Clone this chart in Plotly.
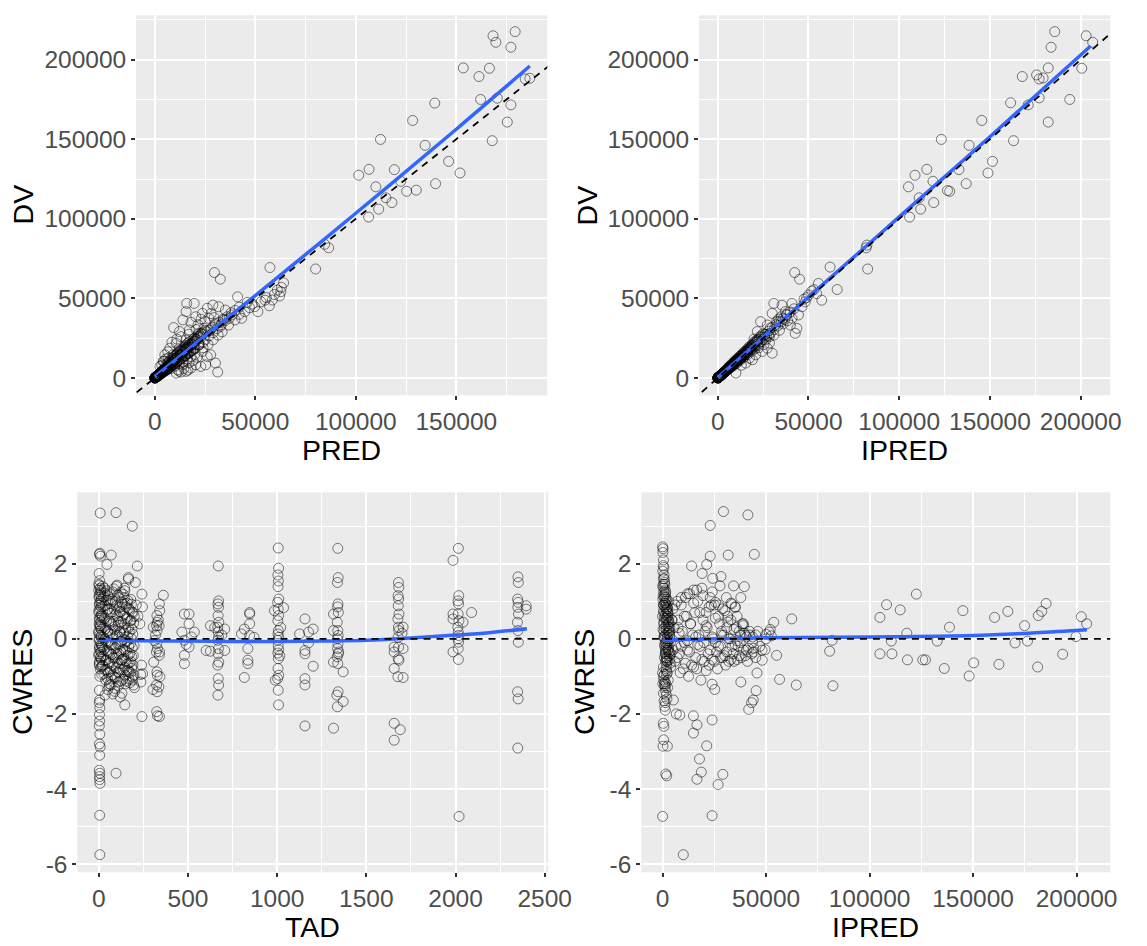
import plotly.graph_objects as go

# ---------------- Panel 1: PRED vs DV ----------------
pred = [
    168300, 179300, 169700, 177200, 153500, 166500, 161300, 184300, 186600, 162100,
    170400, 177200, 175400, 167900, 139300, 128300, 112300, 134500, 146200, 151900,
    139700, 119200, 106600, 101500, 110000, 122400, 125300, 130100, 115000, 118000,
    111400, 106400, 86500, 80000, 84500,
    57300, 64100, 62700, 61000, 62100, 63000, 41200, 47200, 49700, 52900,
    54900, 57000, 51300, 44800, 43200, 39900, 36700, 38300, 35100, 34300,
    31800, 28900, 29700, 32600, 46000, 55500, 58500, 59500, 48500, 42000,
    19600, 15900, 15600, 20400, 23700, 26100, 26900, 30200, 32600, 14000,
    9400, 12300, 17200, 15600, 19600, 22000, 24500, 10700, 7500, 9100,
    12300, 15600, 18800, 22000, 28000, 25000, 21500, 18000, 13000, 11000,
    17000, 20500, 23000, 27500, 29500, 8500, 6500, 5500, 4500, 3500,
    23700, 26100, 27800, 30200, 31300, 25300, 22900, 20400, 18000, 15600,
    13100, 10700, 11500, 8300, 6700, 5000, 4200, 2600, 14500, 16500,
    12000, 19000, 21000, 17000, 14000, 24000, 26500, 29000, 31500, 33500,
    500, 800, 1000, 1200, 1500, 1800, 2000, 2200, 2500, 2800,
    3000, 3300, 3500, 3800, 4000, 4300, 4600, 5000, 5300, 5600,
    6000, 6400, 6800, 7200, 7600, 8000, 8500, 9000, 9500, 10000,
    10500, 11000, 11500, 12000, 12500, 13000, 13500, 14000, 14500, 15000,
    15500, 16000, 16500, 17000, 17500, 18000, 18500, 19000, 19500, 20000,
    21000, 22000, 23000, 24000, 25000, 26000, 27000, 28000, 29000, 30000,
    31000, 32000, 33000, 34000, 35000, 36000, 37000, 38000, 40000, 42000,
    2000, 3000, 4000, 6000, 7000, 9000, 11000, 13000, 16000, 18000,
    0, 50, 100, 150, 200, 250, 300, 350, 400, 450,
    500, 550, 600, 650, 700, 750, 800, 900, 950, 1000,
    1100, 1150, 1200, 1300, 1400, 1500, 1600, 1700, 1800, 1900,
    20, 60, 120, 180, 280, 380, 480, 580, 680, 780,
    5500, 6500, 7500, 8500, 9500, 10500, 11500, 12500, 13500, 14500,
    15500, 16500, 17500, 8000, 10000, 12000, 14000, 16000, 18000, 20000,
    7000, 9000, 11000, 13000, 15000, 17000, 19000, 21000, 23000, 25000,
    2500, 3200, 3900, 4700, 5400, 6100, 6900, 7700, 8400, 9200,
    9900, 10600, 11400, 12100, 12800, 13600, 14300, 15100, 15800, 16600,
    17300, 18100, 18800, 19600, 20300, 21100, 21800, 22600, 23300, 24100,
    3000, 4000, 5000, 6000, 7000, 8000, 9000, 10000, 11000, 12000,
    13000, 14000, 15000, 16000, 17000, 18000, 19000, 20000, 22000, 24000,
    1000, 1500, 2000, 2500, 3000, 3500, 4000, 4500, 5000, 5500,
]
dv_pred = [
    215000, 217600, 210900, 207800, 194800, 194600, 189400, 187900, 188300, 175000,
    175800, 171600, 160800, 149100, 172700, 161800, 149900, 146200, 136100, 128800,
    122100, 130900, 131100, 127400, 120100, 123600, 117300, 118000, 113200, 110200,
    106100, 101100, 81800, 68500, 84000,
    69400, 59800, 54200, 55200, 51500, 57000, 51000, 44200, 44800, 47900,
    48900, 45400, 41700, 41700, 37500, 36500, 33300, 39600, 42700, 36500,
    44800, 45800, 66250, 62100, 47500, 50500, 49000, 52500, 46500, 40000,
    46900, 46900, 41700, 38500, 40600, 43800, 37500, 34400, 32300, 36500,
    31700, 29200, 30200, 23900, 25000, 28100, 31200, 21900, 18750, 14600,
    17700, 18750, 20800, 20800, 40500, 35500, 33500, 35000, 26000, 24500,
    27500, 30500, 37000, 30000, 38000, 22500, 16500, 12000, 10500, 8000,
    16700, 13500, 14600, 9400, 3750, 8300, 7300, 8300, 6250, 4200,
    3750, 3100, 5200, 8300, 12500, 14600, 10400, 7300, 6000, 5000,
    4300, 11000, 13000, 9500, 8500, 19000, 21000, 24000, 27000, 29000,
    600, 900, 1200, 1000, 1700, 2000, 2300, 1900, 2800, 3100,
    3400, 3000, 4000, 4200, 4600, 3900, 5200, 5600, 4800, 6300,
    6800, 5900, 7600, 8100, 7000, 9000, 9700, 8200, 10800, 11200,
    9800, 12500, 13200, 11000, 14000, 14800, 12600, 15800, 16500, 14000,
    17500, 18000, 15500, 19200, 20000, 17000, 21000, 22000, 18500, 23000,
    24000, 21500, 26000, 27500, 24000, 29000, 26500, 31000, 28500, 33500,
    31000, 35000, 33500, 37000, 36000, 38500, 37500, 41000, 42500, 44500,
    1500, 2500, 3500, 5000, 6500, 10000, 10500, 13500, 16500, 19000,
    0, 80, 150, 100, 250, 300, 200, 400, 450, 350,
    550, 500, 700, 600, 800, 650, 750, 1000, 850, 1100,
    1300, 1000, 1400, 1200, 1600, 1350, 1800, 1500, 2100, 1700,
    30, 40, 90, 220, 330, 300, 520, 640, 720, 900,
    8000, 9500, 11000, 12500, 13500, 14500, 16000, 17000, 18000, 19500,
    20500, 22000, 23000, 6000, 7500, 9000, 10500, 12000, 13500, 15000,
    10000, 12000, 15000, 17000, 19500, 21000, 24000, 26000, 28000, 30000,
    3000, 3900, 4800, 5400, 6500, 7100, 8300, 8900, 10000, 10700,
    11800, 12400, 13500, 14600, 15100, 16300, 17200, 17800, 19100, 19500,
    20800, 21400, 22500, 23100, 24200, 24900, 26100, 26800, 27900, 28600,
    2700, 3300, 4500, 5300, 6000, 7300, 8100, 9200, 9900, 11200,
    12100, 12900, 13800, 15100, 15600, 16800, 17500, 18600, 20700, 22300,
    1300, 1600, 2300, 2600, 3400, 3700, 4400, 4900, 5700, 6100,
]
smooth_pred_x = [0, 25000, 50000, 100000, 150000, 186600]
smooth_pred_y = [900, 26500, 51800, 103500, 156300, 196000]

# ---------------- Panel 2: IPRED vs DV ----------------
ipred = [
    185700, 203000, 206600, 183700, 182100, 200600, 167800, 175700, 177100, 179300,
    194000, 177100, 171100, 161400, 182100, 163000, 145500, 123200, 138500, 151400,
    148900, 136900, 132900, 115200, 108700, 105100, 118600, 126600, 127800, 111000,
    119000, 111800, 105700, 81800, 82200, 82600,
    61900, 42400, 45100, 65800, 55500, 51800, 57300, 50000, 48200, 46400,
    44500, 40900, 43600, 42700, 40000, 37200, 35400, 30900, 30000, 27300,
    23600, 21800, 40900, 53000, 49000, 47500, 54500, 38500, 36000, 33500,
    30000, 27300, 24500, 20900, 19100, 15400, 10000, 28500, 31000, 34000,
    25500, 22500, 17500, 13000, 26000, 29000, 32500, 35000, 38000, 20000,
    500, 800, 1000, 1200, 1500, 1800, 2000, 2200, 2500, 2800,
    3000, 3300, 3500, 3800, 4000, 4300, 4600, 5000, 5300, 5600,
    6000, 6400, 6800, 7200, 7600, 8000, 8500, 9000, 9500, 10000,
    10500, 11000, 11500, 12000, 12500, 13000, 13500, 14000, 14500, 15000,
    15500, 16000, 16500, 17000, 17500, 18000, 18500, 19000, 19500, 20000,
    21000, 22000, 23000, 24000, 25000, 26000, 27000, 28000, 29000, 30000,
    31000, 32000, 33000, 34000, 35000, 36000, 37000, 38000, 40000, 42000,
    2000, 3000, 4000, 6000, 7000, 9000, 11000, 13000, 16000, 18000,
    0, 60, 110, 160, 210, 260, 310, 360, 410, 460,
    510, 560, 610, 660, 710, 760, 810, 910, 960, 1010,
    1110, 1160, 1210, 1310, 1410, 1510, 1610, 1710, 1810, 1910,
    25, 70, 130, 190, 290, 390, 490, 590, 690, 790,
    6000, 7000, 8000, 9000, 10000, 11000, 12000, 13000, 14000, 15000,
    16000, 17000, 18000, 19000, 20000, 21000, 22000, 23000, 24000, 25000,
    8500, 10500, 12500, 14500, 16500, 18500, 20500, 22500, 26500, 28500,
    2500, 3500, 4500, 5500, 6500, 7500, 8500, 9500, 10500, 11500,
    12500, 13500, 14500, 15500, 16500, 17500, 18500, 19500, 20500, 21500,
    1000, 1500, 2000, 3000, 4000, 5000, 6000, 7000, 8000, 9000,
    10000, 11000, 12000, 13000, 14000, 15000, 22000, 24000, 26000, 28000,
]
dv_ipred = [
    217600, 215000, 210900, 207800, 194800, 194600, 189400, 190400, 187900, 188500,
    175000, 176000, 171600, 172900, 160800, 149100, 161800, 149900, 146200, 136100,
    128800, 122100, 130900, 131100, 127400, 120100, 123600, 117800, 117300, 113200,
    110200, 106100, 101100, 81800, 83500, 68500,
    69700, 66250, 62100, 55600, 59400, 54600, 48900, 52100, 47900, 44800,
    39600, 37500, 31200, 28100, 33300, 41700, 45800, 46900, 40600, 33300,
    35400, 29200, 46900, 55500, 50500, 49500, 53000, 36000, 34000, 37000,
    15600, 18750, 16700, 14600, 11500, 9400, 3100, 22000, 27000, 30000,
    21000, 19000, 12500, 8000, 25500, 31500, 35500, 38500, 40000, 24500,
    600, 850, 1100, 1150, 1600, 1900, 2200, 2000, 2700, 2900,
    3200, 3100, 3800, 3900, 4300, 4100, 4900, 5300, 5100, 5900,
    6400, 6200, 7200, 7500, 7400, 8500, 9000, 8600, 10200, 10600,
    10300, 11800, 12200, 11600, 13200, 13800, 13200, 14900, 15400, 14600,
    16400, 17000, 16200, 18100, 18700, 17600, 19600, 20300, 19000, 21400,
    22500, 21200, 24500, 25600, 24200, 27200, 26300, 29500, 28200, 31800,
    30500, 33500, 32800, 35500, 35200, 37500, 36800, 39500, 41500, 43500,
    1800, 2700, 3800, 5600, 6900, 9500, 10800, 13400, 16800, 18600,
    0, 70, 140, 110, 240, 280, 220, 380, 430, 370,
    540, 510, 680, 620, 780, 680, 770, 980, 880, 1080,
    1250, 1050, 1350, 1250, 1550, 1400, 1750, 1550, 2000, 1800,
    30, 50, 100, 210, 320, 330, 510, 620, 710, 860,
    7000, 7800, 9200, 10200, 11500, 12300, 13600, 14500, 15800, 16800,
    17800, 19200, 20200, 21000, 22500, 23500, 24200, 25800, 26500, 27800,
    7600, 9400, 11200, 13000, 14800, 16600, 18300, 20500, 24000, 26000,
    2400, 3700, 4400, 5800, 6300, 7900, 8200, 10100, 10200, 12100,
    12200, 14100, 14000, 16200, 16000, 18300, 17900, 20300, 19800, 22400,
    1050, 1450, 2100, 2900, 4200, 4800, 6300, 6800, 8400, 8700,
    10500, 10600, 12600, 12500, 14700, 14400, 23400, 23000, 27500, 26800,
]
smooth_ipred_x = [0, 25000, 50000, 100000, 150000, 205500]
smooth_ipred_y = [300, 25500, 50800, 101200, 151600, 208600]

# ---------------- Panel 3: TAD vs CWRES ----------------
tad = [
    8, 4, 10, 6, 2, 5, 3, 8, 0, 6,
    2, 9, 4, 7, 1, 10, 5, 3, 8, 0,
    6, 2, 9, 4, 7, 1, 10, 5, 3, 8,
    12, 14, 13, 15, 12, 14, 13, 15, 12, 14,
    13, 0, 2, 4, 1, 3, 5, 0, 2, 4,
    1, 3, 6, 4, 5, 3, 6, 4, 5, 3,
    6, 4, 8, 5, 3, 6, 4, 5, 7, 5,
    6,
    22, 27, 24, 20, 28, 25, 21, 26, 23, 29,
    44, 41, 47, 43, 48, 40, 46, 42, 45, 49,
    63, 67, 61, 66, 62, 68, 64, 60, 65, 69,
    84, 80, 87, 83, 88, 81, 86, 82, 85, 89,
    103, 107, 100, 105, 109, 102, 106, 101, 104, 108,
    124, 128, 121, 126, 122, 129, 123, 127, 120, 125,
    143, 147, 141, 146, 142, 148, 144, 140, 145, 149,
    163, 167, 161, 166, 162, 168, 164, 160, 165, 169,
    183, 187, 181, 186, 182, 188, 184, 180, 185, 189,
    12, 33, 52, 73, 93, 113, 133, 153, 173, 193,
    15, 36, 55, 76, 96, 116, 136, 156, 176, 196,
    18, 31, 58, 71, 91, 111, 131, 151, 171, 191,
    10, 38, 50, 78, 98, 118, 138, 158, 178, 198,
    14, 34, 54, 74, 94, 114, 134, 154, 174, 194,
    16, 30, 56, 72, 92, 112, 132, 152, 172, 192,
    11, 37, 57, 77, 97, 117, 137, 157, 177, 197,
    19, 35, 53, 75, 95, 115, 135, 155, 175, 195,
    13, 32, 51, 79, 99, 119, 139, 159, 179, 199,
    17, 39, 59, 70, 90, 110, 130, 150, 170, 190,
    97, 188, 70, 216, 167, 46, 145, 97, 242, 146,
    79, 60, 236, 246, 242, 205, 166, 146, 210, 220,
    230, 240, 235, 245, 200, 120, 90, 110, 50, 35,
    326, 328, 324, 327, 325, 329, 323, 326, 328, 324,
    327, 325, 329, 340, 342, 338, 341, 339, 343, 337,
    340, 306, 308, 304, 362, 318, 334, 312,
    480, 480, 480, 480, 506, 506, 506, 536, 466, 520, 490,
    670, 672, 668, 671, 669, 673, 667, 670, 672, 668,
    671, 669, 673, 667, 670, 672, 668, 626, 626, 706,
    706, 602, 650, 690,
    846, 846, 846, 846, 816, 816, 836, 836, 836, 870, 800,
    1006, 1008, 1004, 1007, 1005, 1009, 1003, 1006, 1008, 1004,
    1007, 1005, 1009, 1003, 1006, 1008, 1004, 1007, 1005, 1009,
    1003, 1006, 1008, 985, 1036, 990, 1020, 1015,
    1156, 1156, 1156, 1156, 1156, 1156, 1176, 1176, 1202, 1202, 1126,
    1340, 1342, 1338, 1341, 1339, 1343, 1337, 1340, 1342, 1338,
    1341, 1339, 1343, 1337, 1340, 1342, 1338, 1316, 1316, 1316,
    1316, 1370, 1370, 1345, 1335,
    1680, 1682, 1678, 1681, 1679, 1683, 1677, 1680, 1682, 1678,
    1681, 1679, 1683, 1677, 1656, 1656, 1656, 1656, 1656, 1690,
    1706, 1706, 1706, 1700,
    2016, 2018, 2014, 2017, 2015, 2019, 2013, 2016, 2018, 2014,
    2017, 2015, 2016, 1986, 1986, 1986, 1986, 2042, 2090, 2020,
    2350, 2352, 2348, 2351, 2349, 2353, 2347, 2350, 2352, 2348,
    2351, 2349, 2396, 2396,
]
cwres_tad = [
    3.35, 2.25, 2.20, 2.28, 1.74, 1.55, 1.42, 1.35, 1.30, 1.20,
    1.10, 1.00, 0.90, 0.80, 0.70, 0.60, 0.50, 0.40, 0.30, 0.20,
    0.10, 0.00, -0.10, -0.20, -0.30, -0.40, -0.50, -0.60, -0.70, -0.80,
    1.25, 1.05, 0.85, 0.65, 0.45, 0.25, 0.05, -0.15, -0.35, -0.55,
    -0.75, 1.45, 1.15, 0.95, 0.75, 0.55, 0.35, 0.15, -0.05, -0.25,
    -0.45, -0.65, -1.00, -1.37, -1.63, -1.70, -1.84, -2.02, -2.19, -2.32,
    -2.54, -2.80, -2.88, -3.10, -3.50, -3.58, -3.67, -3.75, -3.85, -4.70,
    -5.75,
    1.40, 1.12, 0.86, 0.57, 0.31, 0.04, -0.22, -0.46, -0.71, -0.93,
    1.28, 1.03, 0.77, 0.48, 0.21, -0.07, -0.31, -0.56, -0.82, -1.06,
    1.19, 0.94, 0.68, 0.42, 0.13, -0.16, -0.38, -0.66, -0.87, -1.22,
    1.33, 1.01, 0.79, 0.46, 0.24, 0.02, -0.27, -0.51, -0.74, -1.02,
    1.43, 1.16, 0.88, 0.61, 0.36, 0.09, -0.14, -0.42, -0.62, -0.89,
    1.24, 0.98, 0.72, 0.44, 0.19, -0.06, -0.34, -0.57, -0.81, -1.12,
    1.09, 0.93, 0.66, 0.39, 0.16, -0.11, -0.29, -0.52, -0.76, -0.97,
    1.02, 0.81, 0.53, 0.29, 0.06, -0.21, -0.44, -0.67, -0.84, -1.07,
    0.92, 0.71, 0.49, 0.26, 0.01, -0.24, -0.47, -0.61, -0.79, -1.01,
    1.30, 1.22, 1.15, 1.05, 0.98, 1.10, 0.92, 0.85, 0.78, 0.70,
    0.95, 0.88, 0.80, 0.72, 0.66, 0.83, 0.61, 0.57, 0.48, 0.42,
    0.62, 0.54, 0.47, 0.38, 0.33, 0.45, 0.29, 0.23, 0.18, 0.12,
    0.35, 0.27, 0.19, 0.11, 0.05, 0.16, -0.02, -0.07, -0.12, -0.18,
    0.08, -0.01, -0.09, -0.16, -0.24, -0.13, -0.29, -0.33, -0.39, -0.45,
    -0.20, -0.28, -0.35, -0.42, -0.51, -0.40, -0.55, -0.59, -0.64, -0.70,
    -0.48, -0.57, -0.63, -0.69, -0.78, -0.66, -0.82, -0.86, -0.90, -0.96,
    -0.72, -0.83, -0.90, -0.97, -1.04, -0.91, -1.08, -1.13, -1.17, -1.23,
    1.15, 1.35, 1.02, 1.25, 1.40, 0.72, 1.18, 0.95, 1.05, 0.60,
    -0.95, -1.10, -1.25, -1.05, -1.32, -1.15, -1.45, -1.20, -0.88, -1.10,
    3.36, 3.00, 2.23, 1.94, 1.59, 1.98, 1.35, -3.58, -2.07, -1.76,
    -1.47, -1.20, -1.15, -0.93, 1.19, 1.50, 1.63, 1.28, 0.90, 0.60,
    0.40, -0.70, -0.95, 0.85, -1.30, -1.55, -1.40, -1.25, -1.35, -1.50,
    0.62, 0.44, 0.35, 0.22, -0.13, -0.26, -0.35, -0.88, -0.97, -1.23,
    -1.41, -1.94, -2.05, 0.93, 0.75, 0.35, -0.35, -0.44, -1.01, -1.28,
    -2.07, 0.31, -0.62, -1.35, 1.16, 0.10, 0.50, -0.05,
    0.66, -0.04, -0.44, -0.66, 0.66, 0.40, -0.22, 0.18, 0.18, 0.05, -0.15,
    1.94, 1.01, 0.93, 0.84, 0.62, 0.44, 0.31, 0.18, 0.04, -0.04,
    -0.26, -0.40, -0.62, -0.70, -1.06, -1.23, -1.50, 0.35, -0.33, 0.26,
    -0.31, -0.31, 0.30, 0.10,
    0.70, 0.66, 0.40, 0.09, 0.26, -1.03, -0.26, -0.57, -0.66, 0.04, 0.13,
    2.42, 1.88, 1.70, 1.54, 1.39, 1.06, 0.97, 0.79, 0.62, 0.48,
    0.22, 0.13, 0.04, -0.04, -0.18, -0.29, -0.38, -0.53, -0.79, -0.97,
    -1.06, -1.37, -1.76, 0.75, 0.83, -1.10, 0.30, -0.45,
    0.53, -0.31, -0.40, -1.06, -1.23, -2.32, 0.18, -0.11, 0.26, -0.73, 0.13,
    2.41, 1.63, 1.50, 0.93, 0.85, 0.70, 0.44, 0.22, 0.09, 0.00,
    -0.13, -0.26, -0.40, -0.48, -0.66, -1.41, -1.81, 0.66, 0.22, -0.62,
    -2.38, -0.88, -1.67, -0.35, -1.50,
    1.50, 1.37, 1.15, 1.06, 0.88, 0.66, 0.53, 0.31, 0.22, 0.04,
    -0.22, -0.53, -0.57, -1.01, -0.22, -0.35, -0.79, -2.25, -2.70, -2.42,
    0.31, -0.26, -1.03, 0.15,
    2.41, 1.15, 1.01, 0.93, 0.66, 0.48, 0.31, 0.18, 0.09, 0.00,
    -0.09, -0.26, -0.55, 2.09, 0.66, 0.53, -0.35, 0.44, 0.70, -4.73,
    1.65, 1.50, 1.06, 0.97, 0.84, 0.66, 0.44, 0.22, -0.09, -1.41,
    -1.60, -2.91, 0.88, 0.79,
]
smooth_tad_x = [0, 250, 500, 750, 1000, 1250, 1500, 1750, 2000, 2200, 2400]
smooth_tad_y = [-0.03, -0.05, -0.06, -0.07, -0.07, -0.06, -0.04, 0.02, 0.10, 0.17, 0.27]

# ---------------- Panel 4: IPRED vs CWRES ----------------
ipred_r = [
    29400, 41200, 23000, 44300, 31700, 23000, 14000, 21300, 19100, 24200,
    28200, 34300, 39500, 27700, 37800, 30800, 33400, 35200, 25600, 62400,
    53700, 105000, 108200, 114800, 122600, 145100, 138600, 160400, 166800, 174900,
    181500, 183200, 185300, 202300, 204900, 199700, 193300, 181200, 176300, 170300,
    162500, 150300, 148100, 136100, 132700, 127000, 125700, 118300, 118000, 110500,
    110800, 105000, 81900, 80700, 82300, 64600, 56500, 55100, 45600, 45200,
    43800, 43000, 41600, 37800, 49500, 48100, 50000, 51500, 52500, 23900,
    25200, 23900, 21300, 14900, 16600, 14900, 17800, 18700, 16600, 29100,
    26800, 23900, 10000, 0, 1500, 2000, 500, 200, 2300, 300,
    600, 8300, 6600, 5200,
    0, 200, 400, 600, 800, 1000, 1200, 1400, 1600, 1800,
    2000, 2200, 2400, 2600, 2800, 3000, 3200, 3400, 3600, 3800,
    100, 300, 500, 700, 900, 1100, 1300, 1500, 1700, 1900,
    2100, 2300, 2500, 2700, 2900, 3100, 3300, 3500, 3700, 3900,
    50, 250, 450, 650, 850, 1050, 1250, 1450, 1650, 1850,
    150, 350, 550, 750, 950, 1150, 1350, 1550, 1750, 1950,
    0, 300, 600, 900, 1200, 1500, 1800, 2100, 2400, 2700,
    100, 400, 700, 1000, 1300, 1600, 1900, 2200, 2500, 2800,
    0, 500, 1000, 1500, 2000, 2500, 3000, 3500, 4000, 4500,
    300, 700, 1100, 1500, 1900, 2300, 2700, 3100, 500, 900,
    1300, 1700, 2100, 2500, 2900, 200, 600, 1000, 1400, 1800,
    400, 800, 1200, 1600, 2000, 2400, 2800, 100, 300, 500,
    700, 900, 1100, 1300, 1500, 1700, 1900, 2100, 2300, 2500,
    5000, 6000, 7000, 8000, 9000, 10000, 11000, 12000, 13000, 14000,
    15000, 16000, 17000, 18000, 19000, 20000, 21000, 22000, 23000, 24000,
    25000, 26000, 27000, 28000, 29000, 30000, 31000, 32000, 33000, 34000,
    35000, 36000, 37000, 38000, 39000, 40000, 42000, 44000, 46000, 48000,
    5500, 7500, 9500, 11500, 13500, 15500, 17500, 19500, 21500, 23500,
    25500, 27500, 29500, 31500, 33500, 35500, 37500, 39500, 41500, 43500,
    6500, 8500, 10500, 12500, 14500, 16500, 18500, 20500, 22500, 24500,
    26500, 28500, 30500, 32500, 34500, 36500, 38500, 40500, 45000, 50000,
    4500, 6000, 7500, 9000, 10500, 12000, 13500, 15000, 16500, 18000,
    19500, 21000, 22500, 24000, 25500, 27000, 28500, 30000, 31500, 33000,
    34500, 36000, 37500, 39000, 40500, 42000, 43500, 45000, 5000, 7000,
    9000, 11000, 13000, 15000, 17000, 19000, 21000, 23000, 25000, 27000,
    29000, 31000, 33000, 35000, 37000, 39000, 41000, 43000, 47000, 52000,
    8000, 12000, 16000, 20000, 24000, 28000, 32000, 36000, 40000, 44000,
]
cwres_ipred = [
    3.39, 3.30, 3.02, 2.25, 2.23, 2.20, 1.94, 1.98, 1.74, 1.61,
    1.66, 1.41, 1.39, 1.41, 1.10, 1.10, 0.93, 0.84, 0.97, 0.53,
    0.44, 0.57, 0.91, 0.77, 1.19, 0.75, 0.31, 0.57, 0.73, 0.35,
    0.62, 0.73, 0.94, 0.59, 0.40, 0.06, -0.41, -0.75, -0.06, -0.11,
    -0.68, -0.64, -0.99, -0.79, -0.06, -0.56, -0.56, -0.56, 0.15, -0.06,
    -0.40, -0.40, -0.04, -0.33, -1.25, -1.23, -1.08, -0.44, -0.91, -1.38,
    -1.63, -1.70, -1.88, -1.15, -0.29, -0.57, 0.12, 0.18, 0.08, -1.21,
    -1.35, -2.16, -2.85, -2.51, -2.29, -2.05, -3.20, -3.55, -3.74, -3.61,
    -3.88, -4.71, -5.75, -4.73, -3.60, -3.65, -2.69, -2.86, -2.86, -2.25,
    -2.33, -2.03, -2.00, -1.63,
    2.45, 2.40, 2.10, 1.90, 1.60, 1.50, 1.30, 1.20, 1.00, 0.90,
    0.80, 0.70, 0.60, 0.50, 0.40, 0.30, 0.20, 0.10, 0.00, -0.10,
    1.80, 1.45, 1.25, 1.10, 0.95, 0.85, 0.65, 0.55, 0.35, 0.25,
    0.15, 0.05, -0.05, -0.15, -0.25, -0.35, -0.45, -0.55, -0.65, -0.75,
    1.40, 1.15, 0.75, 0.45, 0.05, -0.20, -0.40, -0.60, -0.80, -0.95,
    1.05, 0.90, 0.70, 0.55, 0.30, 0.10, -0.10, -0.30, -0.50, -0.70,
    -0.90, -1.00, -1.10, -1.20, -1.30, -1.40, -1.50, -1.60, -1.30, -1.10,
    -1.20, -1.45, -1.65, -1.80, -1.90, -1.20, -0.85, -0.60, -0.30, 0.20,
    0.60, 0.40, 0.00, -0.25, -0.50, 0.80, 1.00, 0.30, -0.40, 0.50,
    1.95, 1.70, 1.45, 1.25, 1.05, 0.85, 0.65, 0.45, 1.35, 1.15,
    0.95, 0.75, 0.55, 0.35, 0.15, 0.25, 0.05, -0.15, -0.35, -0.55,
    -0.75, -0.95, -1.15, -0.40, -0.20, 0.00, -0.30, 2.30, 1.60, 0.90,
    0.20, -0.50, -1.25, -1.70, 1.10, 0.50, -0.10, -0.60, -0.90, 0.70,
    0.80, -0.60, 1.00, -0.40, 0.90, -0.80, 1.10, -0.30, 1.20, -0.70,
    1.30, -0.50, 1.00, -0.20, 1.35, -0.60, 0.70, -0.40, 1.10, -0.55,
    0.90, -0.35, 0.60, -0.50, 0.80, -0.45, 0.30, -0.60, 0.50, -0.40,
    0.85, -0.55, 0.20, -0.50, 0.40, -0.45, 0.10, -0.35, 0.20, -0.30,
    0.30, 0.50, 0.20, 0.60, 0.40, 0.70, 0.10, 0.50, 0.30, 0.90,
    -0.10, 0.40, 0.10, 0.60, -0.20, 0.30, -0.10, 0.15, -0.25, 0.05,
    -0.20, -0.90, -0.10, -1.00, 0.10, -0.80, -1.10, 0.20, -0.70, 0.00,
    -0.80, 0.10, -0.70, 0.00, -0.60, -0.20, 0.40, -0.30, -0.50, 0.00,
    0.50, 0.90, 0.30, 1.10, 0.60, 1.20, 0.40, 0.95, 1.30, 0.70,
    1.15, 0.35, 0.85, 1.25, 0.55, 0.90, 0.20, 0.75, 0.45, 0.95,
    0.25, 0.60, 0.10, 0.35, 0.05, 0.20, -0.10, 0.10, -0.30, -0.50,
    -0.20, -0.65, -0.35, -0.75, -0.15, -0.55, -0.85, -0.30, -0.60, -0.20,
    -0.50, -0.35, -0.55, -0.15, -0.45, -0.30, -0.60, -0.40, -0.20, 0.25,
    0.15, -0.05, 0.05, -0.10, 0.05, -0.20, 0.00, -0.05, 0.10, -0.25,
]
smooth_ipred_r_x = [0, 10000, 50000, 100000, 150000, 180000, 205000]
smooth_ipred_r_y = [-0.04, -0.02, 0.03, 0.05, 0.09, 0.16, 0.24]

# ---------------- Axis ticks ----------------
conc_ticks = [0, 50000, 100000, 150000, 200000]
conc_labels = ["0", "50000", "100000", "150000", "200000"]
conc_minor = [25000, 75000, 125000, 175000, 225000]
tad_ticks = [0, 500, 1000, 1500, 2000, 2500]
tad_labels = ["0", "500", "1000", "1500", "2000", "2500"]
tad_minor = [250, 750, 1250, 1750, 2250]
res_ticks = [-6, -4, -2, 0, 2]
res_labels = ["-6", "-4", "-2", "0", "2"]
res_minor = [-5, -3, -1, 1, 3]

W, H = 1147, 946
FONT = "Liberation Sans, Arial, Helvetica, sans-serif"
BLUE = "#3366FF"
marker = dict(symbol="circle-open", size=10, color="rgba(0,0,0,0.5)", line=dict(width=1))

fig = go.Figure()

def add_panel(xs, ys, sx, sy, xa, ya, ref_x, ref_y):
    fig.add_trace(go.Scatter(x=xs, y=ys, mode="markers", marker=marker,
                             xaxis=xa, yaxis=ya, showlegend=False, hoverinfo="skip"))
    fig.add_trace(go.Scatter(x=sx, y=sy, mode="lines", line=dict(color=BLUE, width=3.5, shape="spline"),
                             xaxis=xa, yaxis=ya, showlegend=False, hoverinfo="skip"))
    fig.add_trace(go.Scatter(x=ref_x, y=ref_y, mode="lines",
                             line=dict(color="black", width=1.8, dash="7px,6px"),
                             xaxis=xa, yaxis=ya, showlegend=False, hoverinfo="skip"))

r_pred_x = [-9300, 195300]
r_conc_y = [-10850, 227850]
r_ipred_x = [-10300, 216300]
r_tad_x = [-120, 2520]
r_res_y = [-6.22, 3.9]

add_panel(pred, dv_pred, smooth_pred_x, smooth_pred_y, "x", "y",
          [r_pred_x[0] - 20000, r_conc_y[1] + 20000], [r_pred_x[0] - 20000, r_conc_y[1] + 20000])
add_panel(ipred, dv_ipred, smooth_ipred_x, smooth_ipred_y, "x2", "y2",
          [r_ipred_x[0] - 20000, r_conc_y[1] + 20000], [r_ipred_x[0] - 20000, r_conc_y[1] + 20000])
add_panel(tad, cwres_tad, smooth_tad_x, smooth_tad_y, "x3", "y3",
          [r_tad_x[0] - 100, r_tad_x[1] + 100], [0, 0])
add_panel(ipred_r, cwres_ipred, smooth_ipred_r_x, smooth_ipred_r_y, "x4", "y4",
          [r_ipred_x[0] - 20000, r_ipred_x[1] + 20000], [0, 0])

def axis(domain, rng, ticks, labels, minor, anchor):
    return dict(
        domain=domain, range=rng, anchor=anchor,
        tickmode="array", tickvals=ticks, ticktext=labels,
        showgrid=True, gridcolor="white", gridwidth=2,
        minor=dict(tickmode="array", tickvals=minor, showgrid=True,
                   gridcolor="white", gridwidth=1, ticks=""),
        zeroline=False, showline=False,
        ticks="outside", ticklen=4, tickwidth=1.5, tickcolor="#333333",
        tickfont=dict(family=FONT, size=24.5, color="#4D4D4D"),
        fixedrange=True,
    )

def px_x(a, b):
    return [a / W, b / W]

def px_y(top, bottom):
    return [1 - bottom / H, 1 - top / H]

top_y = px_y(15.4, 397.4)
bot_y = px_y(495, 877)

fig.update_layout(
    width=W, height=H, autosize=False,
    margin=dict(l=0, r=0, t=0, b=0),
    paper_bgcolor="white", plot_bgcolor="#EBEBEB",
    font=dict(family=FONT, color="black"),
    xaxis=axis(px_x(139, 559), r_pred_x, conc_ticks[:4], conc_labels[:4], conc_minor[:4], "y"),
    yaxis=axis(top_y, r_conc_y, conc_ticks, conc_labels, conc_minor, "x"),
    xaxis2=axis(px_x(714, 1134), r_ipred_x, conc_ticks, conc_labels, conc_minor[:4], "y2"),
    yaxis2=axis(top_y, r_conc_y, conc_ticks, conc_labels, conc_minor, "x2"),
    xaxis3=axis(px_x(79, 560), r_tad_x, tad_ticks, tad_labels, tad_minor, "y3"),
    yaxis3=axis(bot_y, r_res_y, res_ticks, res_labels, res_minor, "x3"),
    xaxis4=axis(px_x(655, 1134), r_ipred_x, conc_ticks, conc_labels, conc_minor[:4], "y4"),
    yaxis4=axis(bot_y, r_res_y, res_ticks, res_labels, res_minor, "x4"),
)

titles = [
    ("PRED", 349, 452, 0), ("IPRED", 924, 452, 0),
    ("TAD", 319.5, 932, 0), ("IPRED", 894.5, 932, 0),
    ("DV", 23, 206, -90), ("DV", 599, 206, -90),
    ("CWRES", 23, 686, -90), ("CWRES", 597, 686, -90),
]
for text, x, y, ang in titles:
    fig.add_annotation(text=text, x=x / W, y=1 - y / H, xref="paper", yref="paper",
                       xanchor="center", yanchor="middle", textangle=ang, showarrow=False,
                       font=dict(family=FONT, size=28.5, color="black"))

post = ("document.documentElement.style.margin='0';document.body.style.margin='0';"
        "document.documentElement.style.overflow='hidden';document.body.style.overflow='hidden';")
fig.write_html("out.html", config={"displayModeBar": False, "responsive": False},
               post_script=post)
